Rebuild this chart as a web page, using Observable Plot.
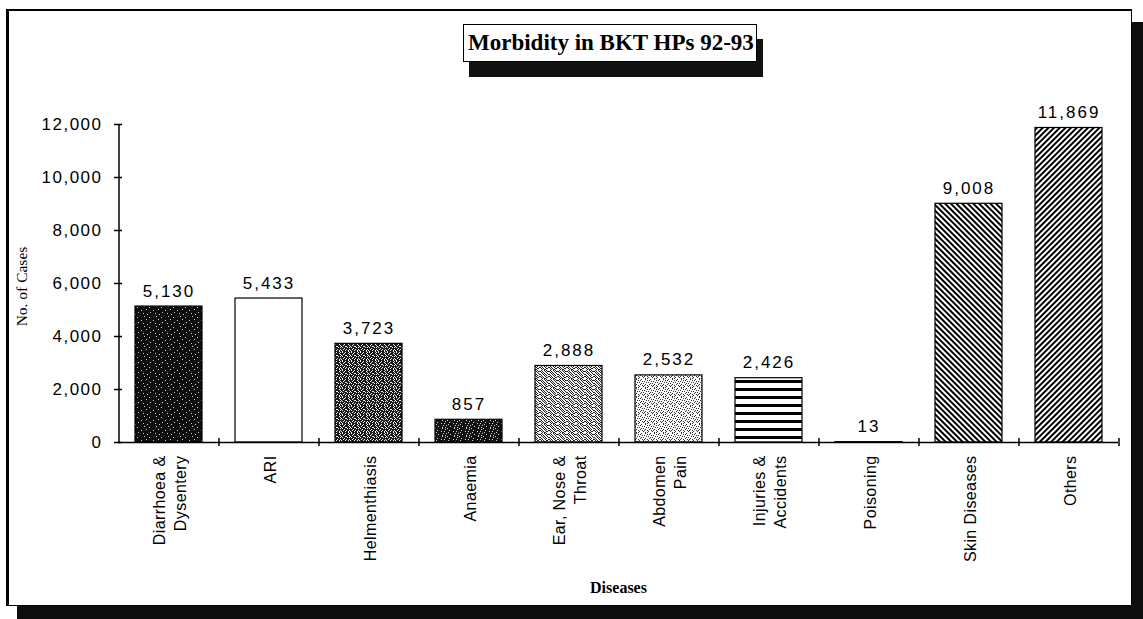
<!DOCTYPE html>
<html>
<head>
<meta charset="utf-8">
<script src="https://cdn.jsdelivr.net/npm/d3@7"></script>
<script src="https://cdn.jsdelivr.net/npm/@observablehq/plot@0.6"></script>
<style>
  html, body { margin: 0; padding: 0; background: #fff; }
  #page { position: relative; width: 1143px; height: 619px; overflow: hidden; background: #fff; }
  #frame {
    position: absolute; left: 6px; top: 9px; width: 1126px; height: 597px;
    box-sizing: border-box; background: #fff;
    border-left: 3px solid #000; border-top: 2px solid #000;
    border-right: 1px solid #000; border-bottom: 1px solid #000;
    box-shadow: 11px 13px 0 #0d0d0d;
  }
  #title {
    position: absolute; left: 463px; top: 24px; height: 36px; padding: 0 2px 0 4px;
    border: 1.5px solid #000; background: #fff;
    font-family: "Liberation Serif", "Times New Roman", serif; font-weight: bold; font-size: 23px;
    line-height: 36px; white-space: nowrap; color: #000;
    box-shadow: 6px 15px 0 #111;
  }
  #chart { position: absolute; left: 0; top: 100px; }
</style>
</head>
<body>
<div id="page">
  <div id="frame"></div>
  <div id="title"></div>
  <div id="chart"></div>
</div>
<script>
// ---- data ----
const titleText = "Morbidity in BKT HPs 92-93";
const categories = [
  "Diarrhoea &\nDysentery",
  "ARI",
  "Helmenthiasis",
  "Anaemia",
  "Ear, Nose &\nThroat",
  "Abdomen\nPain",
  "Injuries &\nAccidents",
  "Poisoning",
  "Skin Diseases",
  "Others"
];
const cases = [5130, 5433, 3723, 857, 2888, 2532, 2426, 13, 9008, 11869];
const yTicks = [0, 2000, 4000, 6000, 8000, 10000, 12000];
const yLabel = "No. of Cases";
const xLabel = "Diseases";

const rows = categories.map((c, i) => ({disease: c, cases: cases[i]}));

// ---- textures (style only) ----
function dither(id, map, dark, light) {
  const h = map.length, w = map[0].length;
  let s = `<pattern id="${id}" width="${w}" height="${h}" patternUnits="userSpaceOnUse"><rect width="${w}" height="${h}" fill="${dark}"/>`;
  map.forEach((row, y) => {
    [...row].forEach((ch, x) => {
      if (ch === "1") s += `<rect x="${x}" y="${y}" width="1" height="1" fill="${light}"/>`;
    });
  });
  return s + `</pattern>`;
}
function patternDefs() {
  const ns = "http://www.w3.org/2000/svg";
  const defs = document.createElementNS(ns, "defs");
  defs.innerHTML =
    dither("pat0", [
      "000000000100",
      "000000000000",
      "000000100000",
      "000000000001",
      "000100000000",
      "000000000000",
      "100000000000",
      "000001000000",
      "000000000000",
      "001000000000"
    ], "#0e0e0e", "#cfcfcf") +
    `<pattern id="pat1" width="4" height="4" patternUnits="userSpaceOnUse"><rect width="4" height="4" fill="#fff"/></pattern>` +
    dither("pat2", [
      "100100010",
      "001000100",
      "010000010",
      "000110001",
      "100001010",
      "001000000",
      "010010010",
      "000100101",
      "100000100"
    ], "#1a1a1a", "#eeeeee") +
    dither("pat3", [
      "000100000010",
      "010000000000",
      "000001000000",
      "100000000100",
      "000010000000",
      "001000000001",
      "000000100000",
      "010000000010"
    ], "#111", "#d8d8d8") +
    dither("pat4", [
      "101101011",
      "010110100",
      "101011011",
      "110101101",
      "011010110",
      "101101011",
      "010110110",
      "101011001",
      "110100111"
    ], "#222", "#f4f4f4") +
    dither("pat5", [
      "110111011",
      "101111110",
      "111010111",
      "011111101",
      "110101111",
      "101111011",
      "111010110",
      "011101111",
      "111111010"
    ], "#333", "#fafafa") +
    `<pattern id="pat6" width="8" height="8" patternUnits="userSpaceOnUse"><rect width="8" height="8" fill="#fff"/><rect width="8" height="3" fill="#000"/></pattern>` +
    `<pattern id="pat7" width="4" height="4" patternUnits="userSpaceOnUse"><rect width="4" height="4" fill="#fff"/></pattern>` +
    `<pattern id="pat8" width="4" height="4" patternUnits="userSpaceOnUse" patternTransform="rotate(45)"><rect width="4" height="4" fill="#fff"/><rect width="4" height="2" fill="#000"/></pattern>` +
    `<pattern id="pat9" width="4" height="4" patternUnits="userSpaceOnUse" patternTransform="rotate(-45)"><rect width="4" height="4" fill="#fff"/><rect width="4" height="2" fill="#000"/></pattern>`;
  return defs;
}

document.getElementById("title").textContent = titleText;

// ---- layout ----
const W = 1130, H = 500, ML = 118, MR = 12, MT = 24, MB = 158;
const plotW = W - ML - MR, plotH = H - MT - MB, step = plotW / categories.length;
const sans = "'Liberation Sans', Arial, Helvetica, sans-serif";
const serif = "'Liberation Serif', 'Times New Roman', serif";

const chart = Plot.plot({
  width: W, height: H,
  marginLeft: ML, marginRight: MR, marginTop: MT, marginBottom: MB,
  x: {domain: categories, paddingInner: 0.33, paddingOuter: 0.165, axis: null},
  y: {domain: [0, 12000], axis: null},
  color: {type: "identity"},
  style: {background: "transparent", color: "#000", fontFamily: sans, overflow: "visible"},
  marks: [
    patternDefs,
    Plot.barY(rows, {x: "disease", y: "cases", fill: (d, i) => `url(#pat${i})`, stroke: "#000", strokeWidth: 1.2}),
    Plot.ruleY([0], {stroke: "#000", strokeWidth: 1.5}),
    Plot.ruleX([categories[0]], {x: d => d, dx: -step / 2, stroke: "#000", strokeWidth: 1.5}),
    Plot.ruleY(yTicks, {y: d => d, insetLeft: -4, insetRight: plotW - 4, stroke: "#000", strokeWidth: 1.5}),
    Plot.ruleX(categories, {x: d => d, dx: step / 2, insetTop: plotH - 4, insetBottom: -4, stroke: "#000", strokeWidth: 1.5}),
    Plot.text(yTicks, {y: d => d, frameAnchor: "left", dx: -16, textAnchor: "end", lineAnchor: "middle",
      text: d => d3.format(",")(d), fontSize: 17, fill: "#000"}),
    Plot.text(rows, {x: "disease", y: "cases", text: d => d3.format(",")(d.cases), dy: -10, lineAnchor: "bottom",
      fontSize: 17, fill: "#000"}),
    Plot.text(categories, {x: d => d, text: d => d, frameAnchor: "bottom", dy: 13, rotate: -90,
      textAnchor: "end", lineAnchor: "middle", lineHeight: 1.3, fontSize: 16, fill: "#000"}),
    Plot.text([yLabel], {text: d => d, frameAnchor: "left", dx: -96, dy: 3, rotate: -90,
      textAnchor: "middle", lineAnchor: "middle", fontFamily: serif, fontSize: 15.5, fill: "#000"}),
    Plot.text([xLabel], {text: d => d, frameAnchor: "bottom", dy: 145, textAnchor: "middle", lineAnchor: "middle",
      fontFamily: serif, fontWeight: "bold", fontSize: 16, fill: "#000"})
  ]
});
// letter spacing: y tick labels = 1st text mark, value labels = 2nd, category labels = 3rd
const textGroups = chart.querySelectorAll('g[aria-label="text"]');
if (textGroups[0]) textGroups[0].setAttribute("letter-spacing", "1.5");
if (textGroups[1]) textGroups[1].setAttribute("letter-spacing", "2");
if (textGroups[2]) textGroups[2].setAttribute("letter-spacing", "0.4");
document.getElementById("chart").appendChild(chart);
</script>
</body>
</html>
